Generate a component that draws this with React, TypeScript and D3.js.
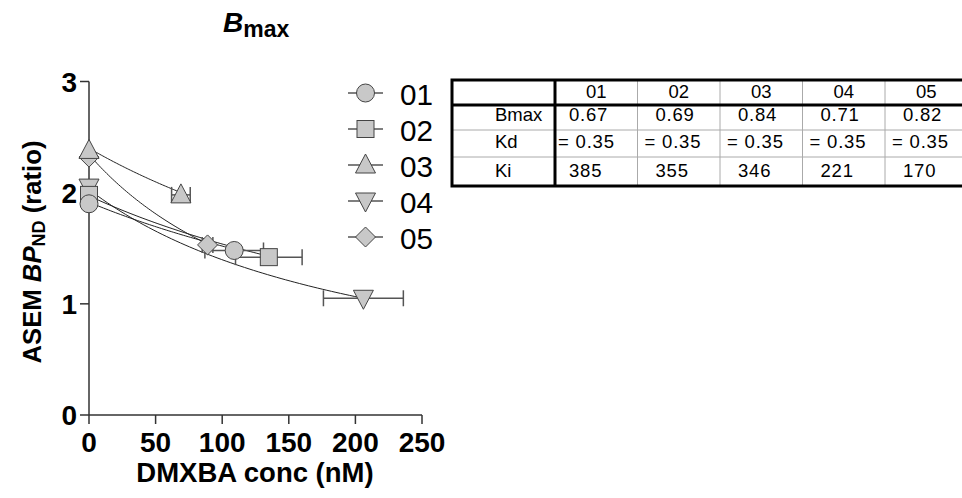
import React from 'react';
import * as d3 from 'd3';

// subjects and the fitted parameters from the table
const subjects = ['01', '02', '03', '04', '05'];
const bmax = [0.67, 0.69, 0.84, 0.71, 0.82];
const kd = [0.35, 0.35, 0.35, 0.35, 0.35];
const ki = [385, 355, 346, 221, 170];

// baseline scan (0 nM) and post-dose scan
const baseBP = [1.9, 1.98, 2.38, 2.05, 2.32];
const postConc = [109, 135, 69, 206, 89];
const postConcSD = [22, 25, 7, 30, 4];
const postBP = [1.48, 1.42, 1.98, 1.05, 1.53];

const xTicks = [0, 50, 100, 150, 200, 250];
const yTicks = [0, 1, 2, 3];
const shapes = ['circle', 'square', 'triangle', 'triangleDown', 'diamond'];

const FONT = '"Liberation Sans", Arial, sans-serif';
const FILL = '#c8c8c8';
const EDGE = '#444';

const Marker = ({ shape, x, y }: { shape: string; x: number; y: number }) => {
  const p = { fill: FILL, stroke: EDGE, strokeWidth: 1 };
  if (shape === 'circle') return <circle cx={x} cy={y} r={9} {...p} />;
  if (shape === 'square') return <rect x={x - 8.5} y={y - 8.5} width={17} height={17} {...p} />;
  if (shape === 'triangle')
    return <path d={`M${x},${y - 11}L${x + 10},${y + 8}L${x - 10},${y + 8}Z`} {...p} />;
  if (shape === 'triangleDown')
    return <path d={`M${x},${y + 11}L${x + 10},${y - 8}L${x - 10},${y - 8}Z`} {...p} />;
  return <path d={`M${x},${y - 10}L${x + 10},${y}L${x},${y + 10}L${x - 10},${y}Z`} {...p} />;
};

const App = () => {
  const x = d3.scaleLinear().domain([0, 250]).range([89, 422]);
  const y = d3.scaleLinear().domain([0, 3]).range([415, 81.5]);

  const fit = (i: number) => {
    const conc = d3.range(0, postConc[i] + 0.01, postConc[i] / 60);
    const line = d3
      .line<number>()
      .x((c) => x(c))
      .y((c) => y(bmax[i] / kd[i] / (1 + c / ki[i])));
    return line(conc) || '';
  };

  const order = [4, 3, 2, 1, 0];

  // table layout
  const colX = d3.scaleLinear().domain([0, 1]).range([555, 637.5]);
  const rowEdges = [80, 105, 130, 157, 186];
  const rows = [
    { label: 'Bmax', values: bmax.map((v) => v.toFixed(2)), pad: 18 },
    { label: 'Kd', values: kd.map((v) => '= ' + v.toFixed(2)), pad: 7 },
    { label: 'Ki', values: ki.map((v) => String(v)), pad: 18 },
  ];

  return (
    <svg
      width={962}
      height={498}
      style={{ position: 'absolute', left: 0, top: 0, background: '#fff' }}
      fontFamily={FONT}
    >
      {/* title */}
      <text x={223} y={32} fontWeight="bold" fontSize={28}>
        <tspan fontStyle="italic">B</tspan>
        <tspan fontSize={23} dy={5}>max</tspan>
      </text>

      {/* axes */}
      <g stroke="#333" strokeWidth={1.5} fill="none">
        <line x1={x(0)} x2={x(0)} y1={y(0)} y2={y(3)} />
        <line x1={x(0)} x2={x(250)} y1={y(0)} y2={y(0)} />
        {yTicks.map((t) => (
          <line key={'yt' + t} x1={x(0) - 9} x2={x(0)} y1={y(t)} y2={y(t)} />
        ))}
        {xTicks.map((t) => (
          <line key={'xt' + t} x1={x(t)} x2={x(t)} y1={y(0)} y2={y(0) + 9} />
        ))}
      </g>
      {yTicks.map((t) => (
        <text key={'yl' + t} x={x(0) - 12} y={y(t) + 10} textAnchor="end" fontWeight="bold" fontSize={28}>
          {t}
        </text>
      ))}
      {xTicks.map((t) => (
        <text key={'xl' + t} x={x(t)} y={452} textAnchor="middle" fontWeight="bold" fontSize={28}>
          {t}
        </text>
      ))}
      <text x={255} y={482} textAnchor="middle" fontWeight="bold" fontSize={27.5}>
        DMXBA conc (nM)
      </text>
      <text transform="translate(41,252) rotate(-90)" textAnchor="middle" fontWeight="bold" fontSize={25.7}>
        ASEM <tspan fontStyle="italic">BP</tspan>
        <tspan fontSize={18} dy={4}>ND</tspan>
        <tspan dy={-4}> (ratio)</tspan>
      </text>

      {/* fit curves */}
      {order.map((i) => (
        <path key={'fit' + i} d={fit(i)} fill="none" stroke="#222" strokeWidth={1} />
      ))}

      {/* error bars */}
      {order.map((i) => {
        const cy = y(postBP[i]);
        const lo = x(postConc[i] - postConcSD[i]);
        const hi = x(postConc[i] + postConcSD[i]);
        return (
          <g key={'err' + i} stroke="#555" strokeWidth={1.5}>
            <line x1={lo} x2={hi} y1={cy} y2={cy} />
            <line x1={lo} x2={lo} y1={cy - 8} y2={cy + 8} />
            <line x1={hi} x2={hi} y1={cy - 8} y2={cy + 8} />
          </g>
        );
      })}

      {/* points */}
      {order.map((i) => (
        <g key={'pt' + i}>
          <Marker shape={shapes[i]} x={x(0)} y={y(baseBP[i])} />
          <Marker shape={shapes[i]} x={x(postConc[i])} y={y(postBP[i])} />
        </g>
      ))}

      {/* legend */}
      {subjects.map((s, i) => {
        const ly = 93 + i * 36;
        return (
          <g key={'lg' + s}>
            <line x1={348} x2={383} y1={ly} y2={ly} stroke="#555" strokeWidth={1.5} />
            <Marker shape={shapes[i]} x={365.5} y={ly} />
            <text transform={`translate(400,${ly + 12}) scale(1.1,1.12)`} fontSize={27}>
              {s}
            </text>
          </g>
        );
      })}

      {/* parameter table */}
      <g fontSize={18.5}>
        {subjects.map((s, j) => (
          <text key={'th' + s} x={colX(j + 0.5)} y={98} textAnchor="middle">
            {s}
          </text>
        ))}
        {rows.map((r, k) => (
          <g key={'row' + r.label}>
            <text x={495} y={rowEdges[k + 2] - 9}>
              {r.label}
            </text>
            {r.values.map((v, j) => (
              <text
                key={'c' + j}
                x={colX(j) + r.pad - (j === 0 ? 4 : 0)}
                y={rowEdges[k + 2] - 9}
                letterSpacing={0.8}
              >
                {v}
              </text>
            ))}
          </g>
        ))}
        <g stroke="#aaa" strokeWidth={1}>
          {[1, 2, 3, 4].map((j) => (
            <line key={'vl' + j} x1={colX(j)} x2={colX(j)} y1={rowEdges[0]} y2={rowEdges[4]} />
          ))}
          {[2, 3].map((k) => (
            <line key={'hl' + k} x1={452} x2={965} y1={rowEdges[k]} y2={rowEdges[k]} />
          ))}
        </g>
        <g stroke="#000" strokeWidth={3} fill="none">
          <rect x={452} y={rowEdges[0]} width={530} height={rowEdges[4] - rowEdges[0]} />
          <line x1={452} x2={965} y1={rowEdges[1]} y2={rowEdges[1]} />
          <line x1={colX(0)} x2={colX(0)} y1={rowEdges[0]} y2={rowEdges[4]} />
        </g>
      </g>
    </svg>
  );
};

export default App;
